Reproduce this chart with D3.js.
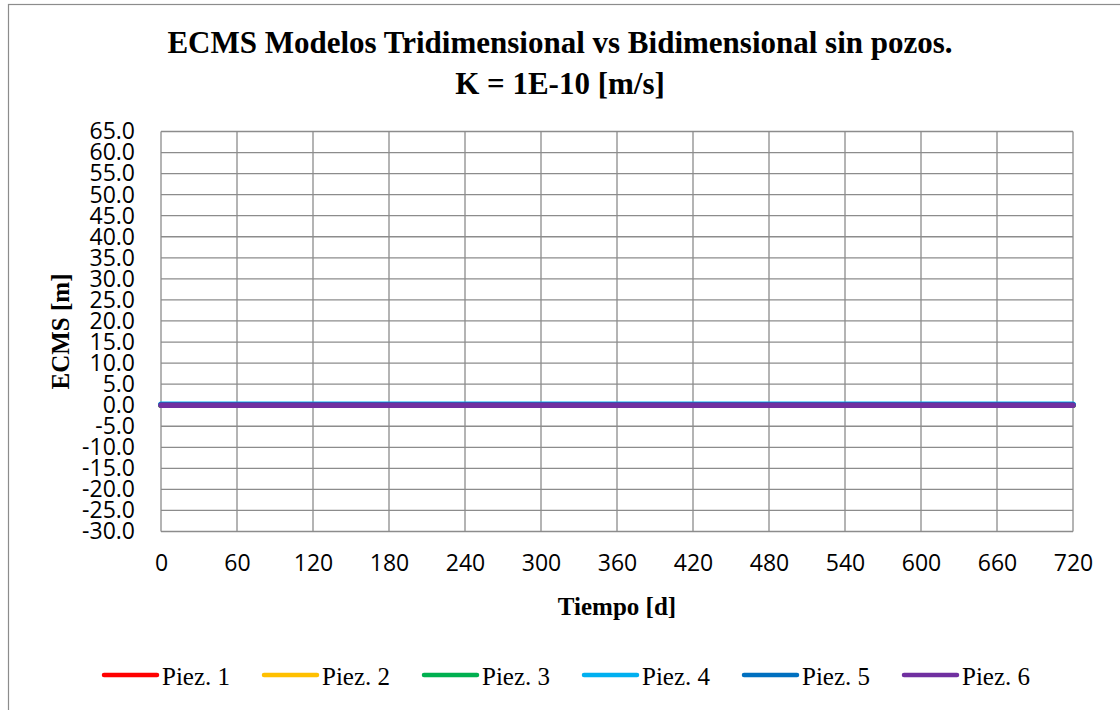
<!DOCTYPE html>
<html>
<head>
<meta charset="utf-8">
<script src="https://cdn.jsdelivr.net/npm/d3@7"></script>
<style>
  body { margin: 0; background: #fff; }
  svg { display: block; }
</style>
</head>
<body>
<svg id="chart" width="1120" height="710"></svg>
<script>
// datos del gráfico
const dias = [0, 60, 120, 180, 240, 300, 360, 420, 480, 540, 600, 660, 720]
const piez1 = [0.0, 0.0, 0.0, 0.0, 0.0, 0.0, 0.0, 0.0, 0.0, 0.0, 0.0, 0.0, 0.0]
const piez2 = [0.0, 0.0, 0.0, 0.0, 0.0, 0.0, 0.0, 0.0, 0.0, 0.0, 0.0, 0.0, 0.0]
const piez3 = [0.0, 0.0, 0.0, 0.0, 0.0, 0.0, 0.0, 0.0, 0.0, 0.0, 0.0, 0.0, 0.0]
const piez4 = [0.2, 0.2, 0.2, 0.2, 0.2, 0.2, 0.2, 0.2, 0.2, 0.2, 0.2, 0.2, 0.2]
const piez5 = [0.1, 0.1, 0.1, 0.1, 0.1, 0.1, 0.1, 0.1, 0.1, 0.1, 0.1, 0.1, 0.1]
const piez6 = [0.0, 0.0, 0.0, 0.0, 0.0, 0.0, 0.0, 0.0, 0.0, 0.0, 0.0, 0.0, 0.0]
const seriesNames = ['Piez. 1', 'Piez. 2', 'Piez. 3', 'Piez. 4', 'Piez. 5', 'Piez. 6']
const seriesColors = ['#ff0000', '#ffc000', '#00b050', '#00b0f0', '#0070c0', '#7030a0']
const xTicks = [0, 60, 120, 180, 240, 300, 360, 420, 480, 540, 600, 660, 720]
const yTicks = d3.range(-30, 65.1, 5)

const series = [piez1, piez2, piez3, piez4, piez5, piez6]

const svg = d3.select('#chart')
const plotLeft = 161, plotRight = 1073, plotTop = 131.5, plotBottom = 531.5

// marco exterior
svg.append('rect')
  .attr('x', 8.5).attr('y', 4.5)
  .attr('width', 1130).attr('height', 720)
  .attr('fill', '#fff')
  .attr('stroke', '#8c8c8c')
  .attr('stroke-width', 1.2)

const x = d3.scaleLinear().domain([0, 720]).range([plotLeft, plotRight])
const y = d3.scaleLinear().domain([-30, 65]).range([plotBottom, plotTop])

// cuadrícula
const grid = svg.append('g')
grid.selectAll('line.h')
  .data(yTicks)
  .enter().append('line')
  .attr('class', 'h')
  .attr('x1', plotLeft).attr('x2', plotRight)
  .attr('y1', d => y(d)).attr('y2', d => y(d))
  .attr('stroke', '#8c8c8c').attr('stroke-width', 1.3)
grid.selectAll('line.v')
  .data(xTicks)
  .enter().append('line')
  .attr('class', 'v')
  .attr('y1', plotTop).attr('y2', plotBottom)
  .attr('x1', d => x(d)).attr('x2', d => x(d))
  .attr('stroke', '#8c8c8c').attr('stroke-width', 1.3)

// ejes (solo etiquetas)
const tickFont = '"Open Sans", "Noto Sans", sans-serif'
const yAxis = svg.append('g')
  .attr('transform', `translate(${plotLeft},0)`)
  .call(d3.axisLeft(y).tickValues(yTicks).tickSize(0).tickPadding(26))
yAxis.select('.domain').remove()
yAxis.selectAll('text')
  .attr('font-family', tickFont)
  .attr('font-size', 23)
  .attr('fill', '#000')
  .text(d => d.toFixed(1))

const xAxis = svg.append('g')
  .attr('transform', `translate(0,${plotBottom})`)
  .call(d3.axisBottom(x).tickValues(xTicks).tickSize(0).tickPadding(23))
xAxis.select('.domain').remove()
xAxis.selectAll('text')
  .attr('font-family', tickFont)
  .attr('font-size', 23)
  .attr('fill', '#000')

// líneas
const line = d3.line()
  .x((d, i) => x(dias[i]))
  .y(d => y(d))
svg.append('g')
  .selectAll('path')
  .data(series)
  .enter().append('path')
  .attr('d', d => line(d))
  .attr('fill', 'none')
  .attr('stroke', (d, i) => seriesColors[i])
  .attr('stroke-width', 5.5)
  .attr('stroke-linecap', 'round')

// títulos
const serif = '"Liberation Serif", "Times New Roman", serif'
svg.append('text')
  .attr('x', 560).attr('y', 53)
  .attr('text-anchor', 'middle')
  .attr('font-family', serif).attr('font-weight', 'bold').attr('font-size', 31)
  .text('ECMS Modelos Tridimensional vs Bidimensional sin pozos.')
svg.append('text')
  .attr('x', 560).attr('y', 94)
  .attr('text-anchor', 'middle')
  .attr('font-family', serif).attr('font-weight', 'bold').attr('font-size', 31)
  .text('K = 1E-10 [m/s]')

svg.append('text')
  .attr('x', (plotLeft + plotRight) / 2).attr('y', 615)
  .attr('text-anchor', 'middle')
  .attr('font-family', serif).attr('font-weight', 'bold').attr('font-size', 25)
  .text('Tiempo [d]')

svg.append('text')
  .attr('transform', `translate(69,${(plotTop + plotBottom) / 2}) rotate(-90)`)
  .attr('text-anchor', 'middle')
  .attr('font-family', serif).attr('font-weight', 'bold').attr('font-size', 25)
  .text('ECMS [m]')

// leyenda
const legend = svg.append('g')
  .selectAll('g')
  .data(seriesNames)
  .enter().append('g')
  .attr('transform', (d, i) => `translate(${104 + i * 160},685)`)
legend.append('line')
  .attr('x1', 0).attr('x2', 53)
  .attr('y1', -10).attr('y2', -10)
  .attr('stroke', (d, i) => seriesColors[i])
  .attr('stroke-width', 4.5)
  .attr('stroke-linecap', 'round')
legend.append('text')
  .attr('x', 58).attr('y', 0)
  .attr('font-family', serif).attr('font-size', 25)
  .text(d => d)
</script>
</body>
</html>
